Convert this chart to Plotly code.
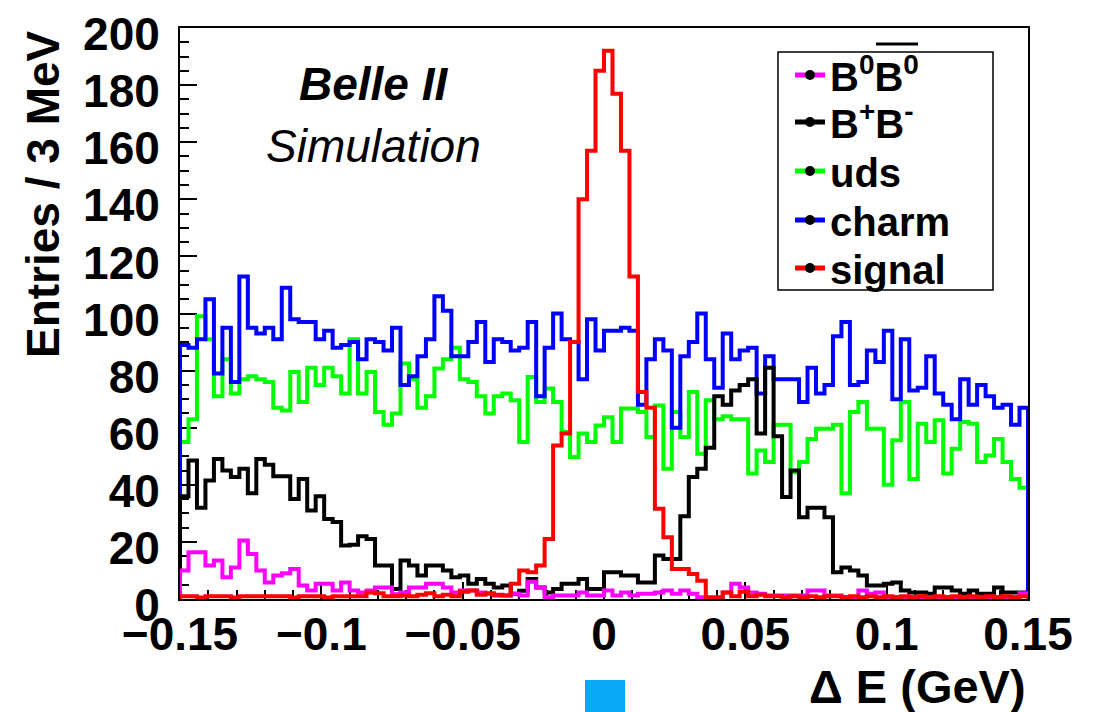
import numpy as np
import plotly.graph_objects as go

# ---------------- data (entries per 3 MeV bin, 100 bins from -0.15 to 0.15 GeV) ----------------
x_min, x_max, n_bins = -0.15, 0.15, 100

b0b0 = [10, 16.4, 16.4, 11.7, 13.5, 7.6, 11, 20.5, 15.8, 10,
        5.8, 8.2, 9, 10.5, 4.7, 3, 5.3, 5.3, 3, 5.8,
        3, 2.3, 3, 4, 4, 1.7, 2.3, 4, 4, 5.3,
        5.3, 4, 2.3, 3, 3, 2.3, 1.8, 1.2, 1.2, 1.8,
        1.2, 6, 4, 0.6, 1.2, 1.2, 1.2, 2.3, 1.2, 1.2,
        3, 1.2, 2.3, 1.2, 1.8, 1.8, 2.3, 3, 1.8, 3,
        1.8, 0.6, 0, 0, 2.3, 5.3, 4, 2.3, 1.8, 1.2,
        1.2, 1.2, 1.2, 1.2, 3, 3, 1.2, 1.2, 0.6, 0.6,
        3, 1.8, 2.3, 0.6, 0.6, 0.6, 0.6, 0.6, 0.6, 0.6,
        0.6, 0.6, 0.6, 0.6, 0.6, 0.6, 0.6, 0.6, 0.6, 2]

bpbm = [36, 48.5, 32, 41.5, 49, 45, 42.7, 45.6, 37, 49,
        47, 43, 43, 35, 42, 31, 36, 28, 27, 18.7,
        19, 22, 21, 11.7, 11.7, 3.5, 13.5, 11.7, 8.2, 11.7,
        11.7, 10, 7.6, 8.2, 5.3, 7, 5.3, 4, 4.7, 1.8,
        2.9, 7, 4, 2.3, 3.5, 5.3, 5.3, 7, 3.5, 3.5,
        9.4, 9.4, 8.2, 8.2, 5.8, 5.8, 15.2, 14, 14, 29,
        42.7, 45.6, 53, 71, 68, 73, 75, 77, 58, 81,
        57, 35.7, 45, 28.6, 32, 32, 28.6, 9.4, 11, 10,
        8.2, 4.7, 4.7, 5.3, 5.8, 3, 2.3, 2.3, 1.8, 4,
        4, 3, 1.8, 3, 1.8, 1.8, 4, 2.3, 2.3, 2.3]

uds = [55, 63, 99, 91, 71, 84, 72, 77, 78, 77,
       76, 67, 66, 79.5, 69, 81, 75, 81, 78, 72,
       91, 72, 79.5, 65.5, 61, 65, 82.5, 77, 67, 71,
       80.7, 84, 88, 77, 76, 71, 65, 71, 72, 69.6,
       55, 77.8, 69, 73.7, 69, 58.5, 49.7, 58, 55, 60.8,
       63.7, 55, 66.7, 66.7, 65.5, 56.7, 67.8, 45.6, 65.5, 56.7,
       72.5, 50.9, 69.6, 63, 64, 63, 63, 44, 52, 48,
       61, 61, 44.4, 48, 56, 59.6, 59.6, 61, 37, 65.5,
       69, 59.6, 59.6, 40, 55.6, 69, 42, 61.4, 55, 62.6,
       44, 52.6, 62, 61.4, 48, 50.3, 56, 48, 42, 39]

charm = [89, 88, 91, 105, 79, 95, 76, 113, 95, 93,
         95, 91, 109, 98, 97, 97, 91, 94, 88, 89,
         90, 84, 91, 90, 87, 95, 75, 78, 85, 91,
         106, 101, 85, 85, 90, 97, 83, 91, 90, 87,
         88, 97, 71, 88, 100, 91, 90, 77, 98, 87,
         94, 94, 95, 94, 68, 84, 91, 87, 60, 85,
         90, 100, 84, 74, 93, 84, 87, 88, 72, 85,
         77, 77, 77, 69, 81, 72, 75, 92, 97, 75,
         76, 87, 83, 94, 70, 91, 73, 74, 85, 72,
         68, 63, 77, 68, 75, 71, 67, 68, 61, 67]

signal = [1, 1, 0.5, 1, 1, 1, 0.5, 1, 1, 1,
          1, 1, 1, 0.5, 1, 1, 1, 0.5, 1, 1,
          1, 1, 2.3, 2, 1, 1, 1.2, 1, 1.5, 2,
          1, 1.5, 1, 2.5, 3, 1.5, 2, 1.5, 1.2, 5.3,
          10, 9.4, 11.7, 21, 53.8, 58, 90, 140, 157, 185,
          192, 177, 157, 113, 72.5, 67, 31.6, 21.6, 10.5, 10.5,
          8.8, 6.4, 0.6, 0.6, 2.3, 1, 2.5, 1, 1.5, 1,
          1, 0.6, 1, 0.6, 1, 0.6, 1, 1, 0.6, 1,
          0.6, 1, 0.6, 1, 0.6, 1, 0.6, 1, 0.6, 1,
          0.6, 1, 0.6, 1, 0.6, 1, 0.6, 1, 0.6, 1]

series_names = ["B<sup>0</sup>B<sup>0</sup>", "B<sup>+</sup>B<sup>-</sup>", "uds", "charm", "signal"]
series_values = [b0b0, bpbm, uds, charm, signal]
series_colors = ["#FF00FF", "#000000", "#00FF00", "#0000FF", "#FF0000"]
draw_order = [2, 3, 1, 0, 4]  # uds, charm, B+B-, B0B0, signal on top

x_tickvals = [-0.15, -0.1, -0.05, 0, 0.05, 0.1, 0.15]
y_tickvals = [0, 20, 40, 60, 80, 100, 120, 140, 160, 180, 200]

# ---------------- figure ----------------
edges = np.linspace(x_min, x_max, n_bins + 1)

def step_xy(vals):
    xs = [edges[0]] + list(edges[:-1]) + [edges[-1]]
    ys = [0] + list(vals) + [0]
    return xs, ys

L, R, T, B = 180, 77, 28, 113
W, H = 1105, 712
PW, PH = W - L - R, H - T - B

def px(xp):
    return (xp - L) / PW

def py(yp):
    return (H - B - yp) / PH

FONT = "Liberation Sans, Arial, Helvetica, sans-serif"

fig = go.Figure()
for i in draw_order:
    xs, ys = step_xy(series_values[i])
    fig.add_trace(go.Scatter(x=xs, y=ys, mode="lines", line=dict(color=series_colors[i], width=4, shape="hv"),
                             showlegend=False, hoverinfo="skip"))

legend_keys = ["legend", "legend2", "legend3", "legend4", "legend5"]
legend_rows_px = [75, 122, 171, 220, 268]
legend_layout = {}
for k, (name, col) in enumerate(zip(series_names, series_colors)):
    fig.add_trace(go.Scatter(x=[None], y=[None], mode="lines+markers", name=name, legend=legend_keys[k],
                             line=dict(color=col, width=5), marker=dict(color="black", size=10)))
    legend_layout[legend_keys[k]] = dict(
        x=px(790), y=py(legend_rows_px[k]), xanchor="left", yanchor="middle", bgcolor="rgba(0,0,0,0)",
        borderwidth=0, font=dict(family=FONT, size=40, color="black", weight="bold"), itemclick=False)

axis_common = dict(showgrid=False, zeroline=False, showline=True, linecolor="black", linewidth=2,
                   mirror=True, ticks="inside", ticklen=17, tickwidth=1.5, tickcolor="black", automargin=False,
                   tickfont=dict(family=FONT, size=46, color="black", weight="bold"), layer="below traces")

fig.update_xaxes(range=[x_min, x_max], tickvals=x_tickvals, ticklabelstandoff=-6,
                 minor=dict(dtick=0.01, tick0=0, ticks="inside", ticklen=9, tickwidth=1.5, tickcolor="black"),
                 **axis_common)
fig.update_yaxes(range=[0, 200], tickvals=y_tickvals, ticklabelstandoff=9, ticklabelshift=6,
                 minor=dict(dtick=5, tick0=0, ticks="inside", ticklen=9, tickwidth=1.5, tickcolor="black"),
                 **axis_common)

fig.update_layout(
    width=W, height=H, margin=dict(l=L, r=R, t=T, b=B),
    paper_bgcolor="white", plot_bgcolor="white",
    font=dict(family=FONT, color="black"),
    annotations=[
        dict(text="<b><i>Belle II</i></b>", x=px(374), y=py(84), xref="paper", yref="paper",
             xanchor="center", yanchor="middle",
             showarrow=False, font=dict(family=FONT, size=46, color="black")),
        dict(text="<i>Simulation</i>", x=px(373), y=py(146), xref="paper", yref="paper",
             xanchor="center", yanchor="middle",
             showarrow=False, font=dict(family=FONT, size=46, color="black")),
        dict(text="<b>Δ E (GeV)</b>", x=1, y=py(686), xref="paper", yref="paper", xanchor="right",
             yanchor="middle", showarrow=False, font=dict(family=FONT, size=47, color="black")),
        dict(text="<b>Entries / 3 MeV</b>", x=px(43), y=py(28), xref="paper", yref="paper",
             xanchor="center", yanchor="top", textangle=-90, showarrow=False,
             font=dict(family=FONT, size=46, color="black")),
    ],
    shapes=[
        dict(type="rect", xref="paper", yref="paper", x0=px(778), x1=px(993), y0=py(290), y1=py(52),
             line=dict(color="black", width=1.5), fillcolor="rgba(0,0,0,0)"),
        dict(type="line", xref="paper", yref="paper", x0=px(876), x1=px(918), y0=py(44), y1=py(44),
             line=dict(color="black", width=3)),
        dict(type="rect", xref="paper", yref="paper", x0=px(585), x1=px(625), y0=py(712), y1=py(680),
             line=dict(width=0), fillcolor="#0AA8F5"),
    ],
    **legend_layout,
)

fig.write_html("out.html")
